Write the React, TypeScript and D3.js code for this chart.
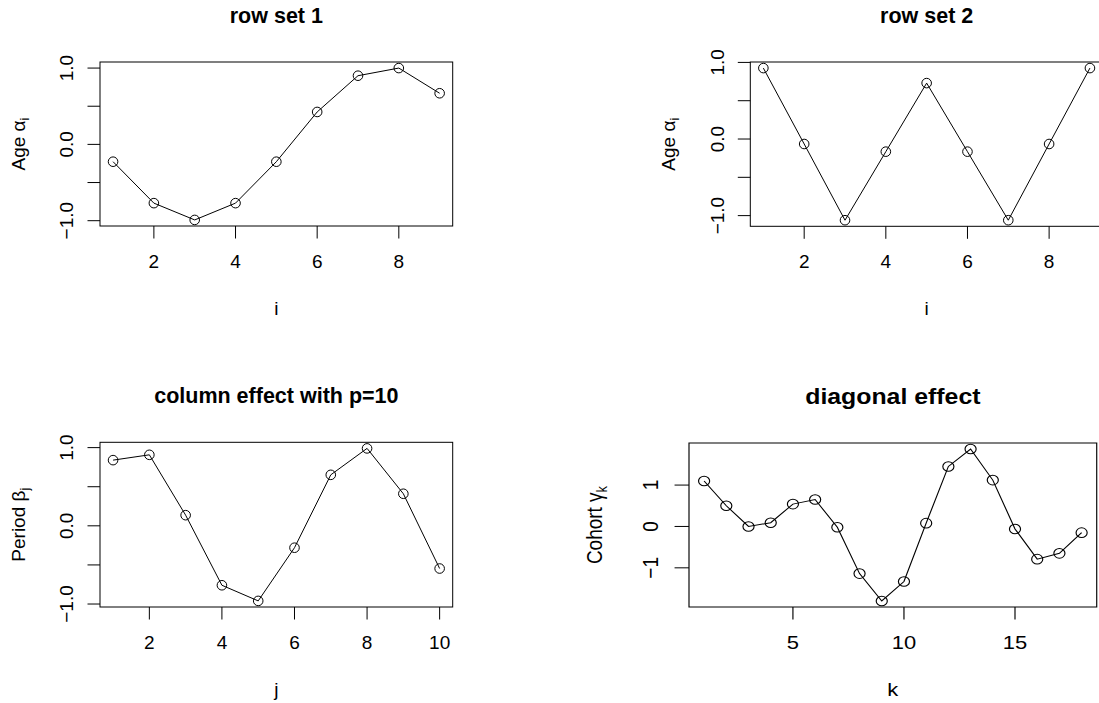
import React from "react";
import * as d3 from "d3";

// values
const rowSet1 = [-0.227, -0.77, -0.99, -0.77, -0.227, 0.425, 0.9, 1.0, 0.67];
const rowSet2 = [0.926, -0.065, -1.06, -0.165, 0.73, -0.165, -1.06, -0.065, 0.926];
const columnEffect = [0.84, 0.908, 0.136, -0.76, -0.96, -0.28, 0.652, 0.99, 0.41, -0.546];
const diagonalEffect = [
  1.1, 0.5, 0.0, 0.09, 0.54, 0.65, -0.02, -1.14, -1.8, -1.33, 0.08, 1.45, 1.87, 1.12, -0.06,
  -0.79, -0.65, -0.15,
];

const titles = ["row set 1", "row set 2", "column effect with p=10", "diagonal effect"];
const xLabels = ["i", "i", "j", "k"];
const yNames = ["Age ", "Age ", "Period ", "Cohort "];
const yGreek = ["\u03b1", "\u03b1", "\u03b2", "\u03b3"];
const ySubs = ["i", "i", "j", "k"];
const xTicks = [[2, 4, 6, 8], [2, 4, 6, 8], [2, 4, 6, 8, 10], [5, 10, 15]];
const yTicks = [
  [-1, -0.5, 0, 0.5, 1],
  [-1, -0.5, 0, 0.5, 1],
  [-1, -0.5, 0, 0.5, 1],
  [-1, 0, 1],
];
const yTickLabels = [
  ["\u22121.0", "", "0.0", "", "1.0"],
  ["\u22121.0", "", "0.0", "", "1.0"],
  ["\u22121.0", "", "0.0", "", "1.0"],
  ["\u22121", "0", "1"],
];

// plot boxes (left, top, native width, height, horizontal stretch)
const boxes = [
  { left: 100, top: 62, w: 352.7, h: 164, sx: 1 },
  { left: 750.3, top: 62, w: 352.7, h: 164.3, sx: 1 },
  { left: 100, top: 442.3, w: 352.7, h: 164.7, sx: 1 },
  { left: 689, top: 443, w: 352.7, h: 164, sx: 1.156 },
];

const series = [rowSet1, rowSet2, columnEffect, diagonalEffect];
const font = "'Liberation Sans', Arial, Helvetica, sans-serif";

// R style axis range: data range padded by 4%
const pad = (ext: [number, number]): [number, number] => {
  const d = (ext[1] - ext[0]) * 0.04;
  return [ext[0] - d, ext[1] + d];
};

const Panel = ({ idx }: { idx: number }) => {
  const b = boxes[idx];
  const values = series[idx];
  const index = d3.range(1, values.length + 1);

  const x = d3.scaleLinear().domain(pad([1, values.length])).range([0, b.w]);
  const y = d3
    .scaleLinear()
    .domain(pad(d3.extent(values) as [number, number]))
    .range([b.top + b.h, b.top]);

  const line = d3
    .line<number>()
    .x((d, i) => x(index[i]))
    .y((d) => y(d));

  const bottom = b.top + b.h;

  return (
    <g transform={`translate(${b.left},0) scale(${b.sx},1)`} fontFamily={font} fill="black">
      <text
        x={b.w / 2}
        y={b.top - 39}
        textAnchor="middle"
        fontWeight="bold"
        fontSize={21.5}
      >
        {titles[idx]}
      </text>
      <rect x={0} y={b.top} width={b.w} height={b.h} fill="none" stroke="black" strokeWidth={1} />
      <path d={line(values) || ""} fill="none" stroke="black" strokeWidth={1} />
      {values.map((v, i) => (
        <circle key={i} cx={x(index[i])} cy={y(v)} r={4.8} fill="none" stroke="black" strokeWidth={1} />
      ))}
      {xTicks[idx].map((t) => (
        <g key={t}>
          <line x1={x(t)} x2={x(t)} y1={bottom} y2={bottom + 12.5} stroke="black" />
          <text x={x(t)} y={bottom + 42} textAnchor="middle" fontSize={19}>
            {t}
          </text>
        </g>
      ))}
      <text x={b.w / 2} y={bottom + 89} textAnchor="middle" fontSize={19}>
        {xLabels[idx]}
      </text>
      {yTicks[idx].map((t, i) => (
        <g key={t}>
          <line x1={-12.5} x2={0} y1={y(t)} y2={y(t)} stroke="black" />
          <text
            transform={`translate(${-26.7},${y(t)}) rotate(-90)`}
            textAnchor="middle"
            fontSize={19}
          >
            {yTickLabels[idx][i]}
          </text>
        </g>
      ))}
      <text
        transform={`translate(${-75},${b.top + b.h / 2}) rotate(-90)`}
        textAnchor="middle"
        fontSize={19}
      >
        {yNames[idx]}
        {yGreek[idx]}
        <tspan fontSize={13} dy={4}>
          {ySubs[idx]}
        </tspan>
      </text>
    </g>
  );
};

const App = () => {
  return (
    <svg
      width={1099}
      height={703}
      style={{ position: "absolute", left: 0, top: 0, background: "white" }}
    >
      <rect width={1099} height={703} fill="white" />
      {series.map((s, i) => (
        <Panel key={i} idx={i} />
      ))}
    </svg>
  );
};

export default App;
